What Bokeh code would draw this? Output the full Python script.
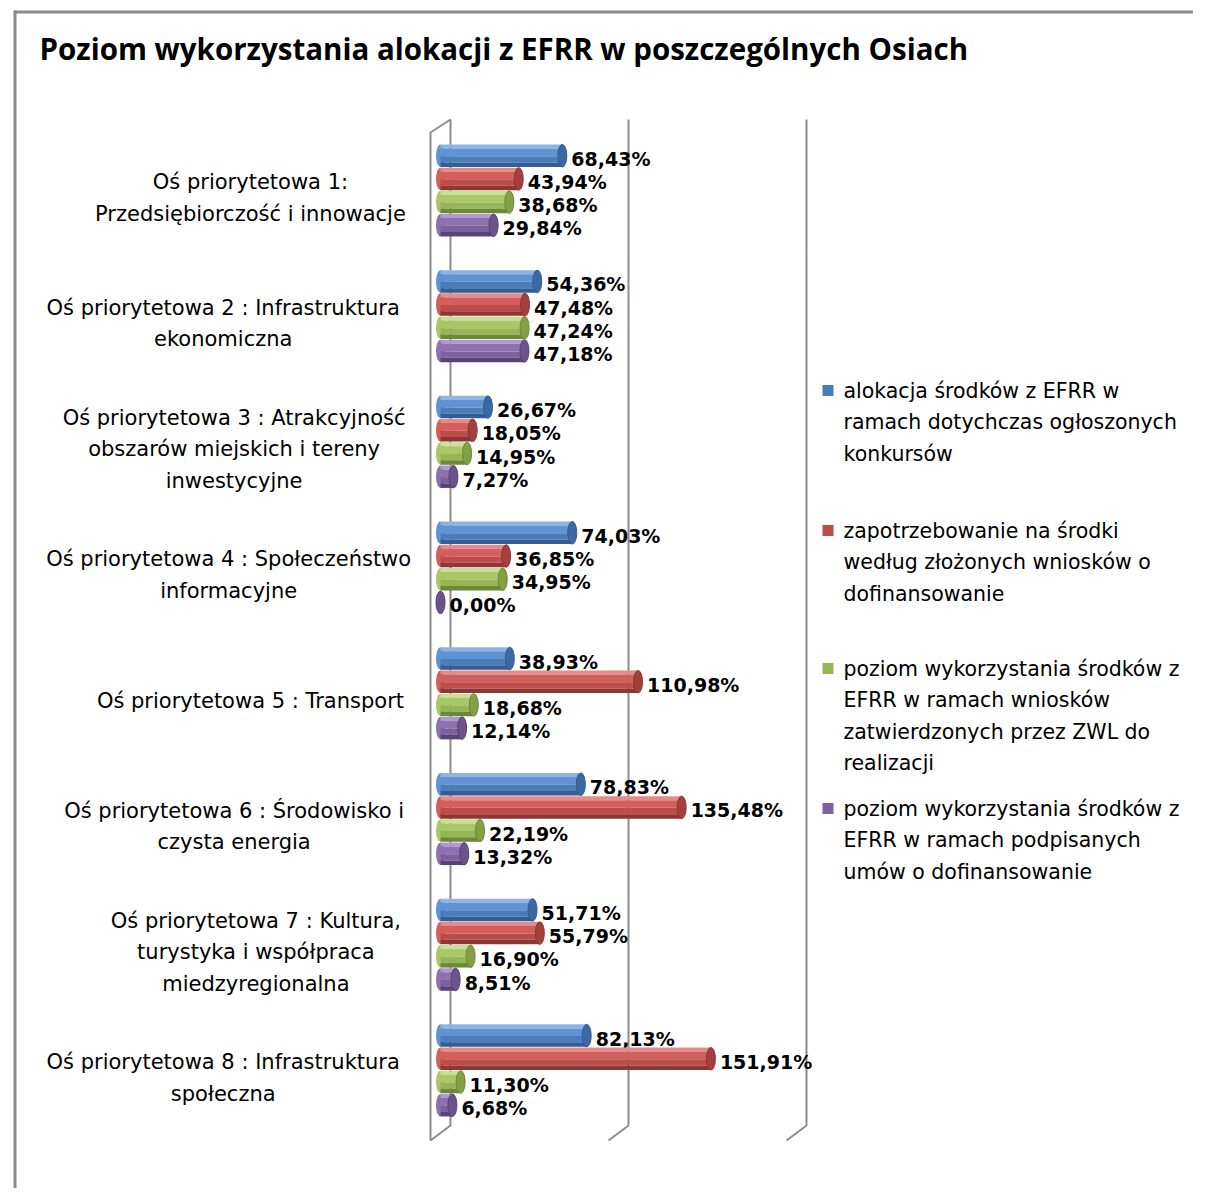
from bokeh.plotting import figure
from bokeh.models import Range1d
from bokeh.core.properties import value
from bokeh.embed import file_html
from bokeh.resources import INLINE

# ---------------- data ----------------
title = "Poziom wykorzystania alokacji z EFRR w poszczególnych Osiach"
categories = [
    "Oś priorytetowa 1:\nPrzedsiębiorczość i innowacje",
    "Oś priorytetowa 2 : Infrastruktura\nekonomiczna",
    "Oś priorytetowa 3 : Atrakcyjność\nobszarów miejskich i tereny\ninwestycyjne",
    "Oś priorytetowa 4 : Społeczeństwo\ninformacyjne",
    "Oś priorytetowa 5 : Transport",
    "Oś priorytetowa 6 : Środowisko i\nczysta energia",
    "Oś priorytetowa 7 : Kultura,\nturystyka i współpraca\nmiedzyregionalna",
    "Oś priorytetowa 8 : Infrastruktura\nspołeczna",
]
series_names = [
    " alokacja środków z EFRR w\nramach dotychczas ogłoszonych\nkonkursów",
    "zapotrzebowanie na środki\nwedług złożonych wniosków o\ndofinansowanie",
    "poziom wykorzystania środków z\nEFRR w ramach wniosków\nzatwierdzonych przez ZWL do\nrealizacji",
    "poziom wykorzystania środków z\nEFRR w ramach podpisanych\numów o dofinansowanie",
]
alokacja = [68.43, 54.36, 26.67, 74.03, 38.93, 78.83, 51.71, 82.13]
zapotrzebowanie = [43.94, 47.48, 18.05, 36.85, 110.98, 135.48, 55.79, 151.91]
zatwierdzone = [38.68, 47.24, 14.95, 34.95, 18.68, 22.19, 16.90, 11.30]
podpisane = [29.84, 47.18, 7.27, 0.00, 12.14, 13.32, 8.51, 6.68]
gridline_values = [0, 100, 200]

# ---------------- layout helpers (canvas px -> data) ----------------
W, H = 1193, 1188
ZERO_PX, PX_PER_UNIT = 440.0, 1.78       # canvas x of 0 %, px per 1 %
GROUP0_PX, GROUP_STEP = 190.5, 125.7     # canvas y of first group, px per group


def X(sx):
    return (sx - ZERO_PX) / PX_PER_UNIT


def Y(sy):
    return (sy - GROUP0_PX) / GROUP_STEP


p = figure(width=W, height=H, output_backend="svg", toolbar_location=None,
           x_axis_type=None, y_axis_type=None, min_border=0,
           x_range=Range1d(X(0), X(W)),
           y_range=Range1d(Y(H), Y(0)))
p.outline_line_color = None
p.grid.visible = False
p.background_fill_color = "white"
p.border_fill_color = "white"

TITLE_FONT = value("Open Sans")
FONT = value("DejaVu Sans")

# chart border (top + left)
p.line([X(14.5), X(W)], [Y(11.5), Y(11.5)], line_color="#8a8a8a", line_width=3)
p.line([X(14.5), X(14.5)], [Y(10), Y(H)], line_color="#8a8a8a", line_width=3)

# title
p.text(x=[X(39)], y=[Y(48)], text=[title], text_font=TITLE_FONT, text_font_style="bold",
       text_font_size="29.5px", text_baseline="middle", text_align="left", text_color="black")

# 3D walls / gridlines
d = 10 / PX_PER_UNIT
for v in gridline_values:
    p.line([v + d, v + d, v - d], [Y(119), Y(1125), Y(1140)], line_color="#8c8c8c", line_width=2)
p.line([gridline_values[0] - d, gridline_values[0] - d, gridline_values[0] + d],
       [Y(1140), Y(132), Y(119)], line_color="#8c8c8c", line_width=2)

# bars (cylinder look)
series = [alokacja, zapotrzebowanie, zatwierdzone, podpisane]
shades = [
    ["#8fb4e3", "#5f93d4", "#4a7dbb", "#345d93", "#3c69a3"],
    ["#e38d8a", "#d45e5b", "#bd4d4a", "#8c3734", "#a3403d"],
    ["#c9de98", "#a9c865", "#96b554", "#6d883a", "#82a046"],
    ["#af9acd", "#8d72af", "#7c61a0", "#584473", "#6b548a"],
]
strips = [(0.0, 0.18, 0), (0.18, 0.52, 1), (0.52, 0.80, 2), (0.80, 1.0, 3)]
step_px = 23.2
bar_px = 22.5
h = bar_px / GROUP_STEP
n = len(categories)
for s, vals in enumerate(series):
    off = ((s - 1.5) * step_px - 0.5) / GROUP_STEP
    yc = [i + off for i in range(n)]
    sh = shades[s]
    p.ellipse(x=[0] * n, y=yc, width=9, height=bar_px, width_units="screen",
              height_units="screen", fill_color=sh[1], line_color=None)
    for f0, f1, ci in strips:
        ys = [y - h / 2 + (f0 + f1) / 2 * h for y in yc]
        p.hbar(y=ys, left=0, right=vals, height=(f1 - f0) * h,
               fill_color=sh[ci], line_color=None)
    p.ellipse(x=vals, y=yc, width=9, height=bar_px, width_units="screen",
              height_units="screen", fill_color=sh[4], line_color=sh[3], line_width=1)
    labels = [f"{v:.2f}".replace(".", ",") + "%" for v in vals]
    p.text(x=[v + 9 / PX_PER_UNIT for v in vals], y=[y + 3 / GROUP_STEP for y in yc],
           text=labels, text_font=FONT, text_font_style="bold", text_font_size="19px",
           text_baseline="middle", text_align="left", text_color="black")

# category labels (centered block, right edge near the axis)
LINE = 31.5 / GROUP_STEP
for i, cat in enumerate(categories):
    lines = cat.split("\n")
    maxw = max(len(l) for l in lines) * 10.9
    cx = X(408 - maxw / 2)
    top = i + 7 / GROUP_STEP - (len(lines) - 1) * LINE / 2
    p.text(x=[cx] * len(lines), y=[top + k * LINE for k in range(len(lines))], text=lines,
           text_font=FONT, text_font_size="21px", text_baseline="middle",
           text_align="center", text_color="black")

# legend
legend_tops = [390, 530, 668, 808]
legend_colors = [sh[2] for sh in shades]
for name, ty, col in zip(series_names, legend_tops, legend_colors):
    lines = name.split("\n")
    p.rect(x=[X(827.5)], y=[Y(ty)], width=11, height=11, width_units="screen",
           height_units="screen", fill_color=col, line_color=None)
    p.text(x=[X(843)] * len(lines), y=[Y(ty) + k * LINE for k in range(len(lines))], text=lines,
           text_font=FONT, text_font_size="20.5px", text_baseline="middle",
           text_align="left", text_color="black")

open("out.html", "w").write(file_html(p, INLINE))
